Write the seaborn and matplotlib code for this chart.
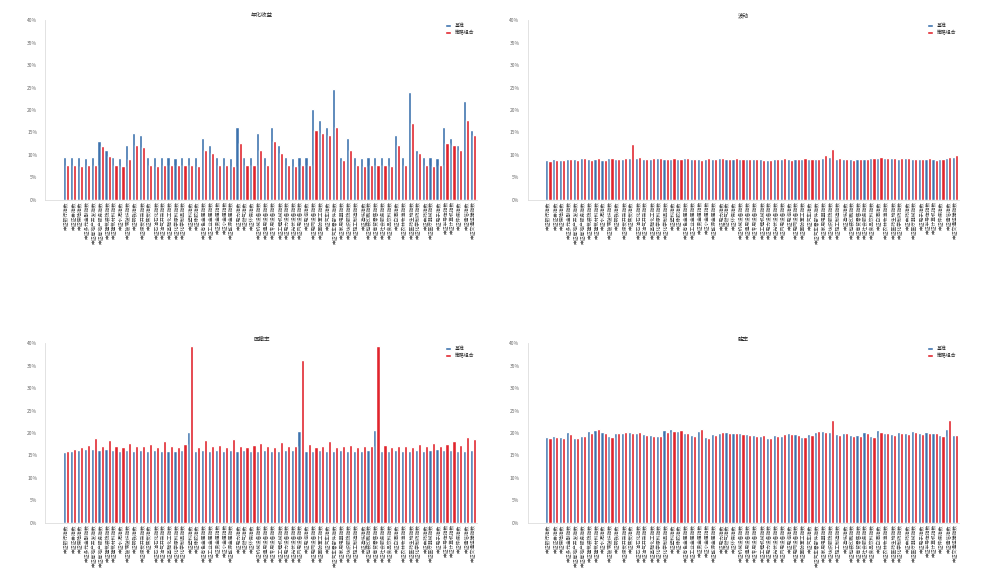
import pandas as pd
import matplotlib
matplotlib.use("Agg")
import matplotlib.pyplot as plt
import seaborn as sns
from matplotlib.ticker import PercentFormatter

sns.set_style("white")
plt.rcParams['font.family'] = ['Noto Sans CJK SC', 'DejaVu Sans']

# categories shared by all four panels
names = ["银行", "证券", "保险", "多元金融", "房地产开发", "房地产服务", "建筑装饰", "建筑材料", "水泥", "玻璃玻纤",
         "钢铁", "煤炭开采", "焦炭", "石油石化", "油气开采", "基础化工", "化学原料", "化学制品", "塑料", "橡胶",
         "有色金属", "工业金属", "贵金属", "小金属", "能源金属", "电力", "燃气", "环保", "机械设备", "通用设备",
         "专用设备", "工程机械", "电力设备", "光伏设备", "风电设备", "电池", "电网设备", "国防军工", "汽车", "汽车零部件",
         "家用电器", "纺织服饰", "轻工制造", "造纸", "包装印刷", "商贸零售", "社会服务", "食品饮料", "白酒", "农林牧渔",
         "医药生物", "化学制药", "中药", "医疗器械", "电子", "半导体", "计算机", "传媒", "通信", "交通运输"]
labels = ["中证" + n + "指数" for n in names]

series_names = ["基准", "策略组合"]
titles = ["年化收益", "波动", "回撤率", "胜率"]

tl_a = [9.5, 9.6, 9.5, 9.4, 9.5, 13.1, 11.0, 9.5, 9.4, 12.2,
        14.9, 14.4, 9.5, 9.5, 9.6, 9.5, 9.4, 9.5, 9.6, 9.5,
        13.8, 12.2, 9.5, 9.5, 9.4, 16.3, 9.5, 9.6, 14.9, 9.5,
        16.3, 12.2, 9.5, 9.4, 9.5, 9.5, 20.1, 17.8, 16.3, 24.6,
        9.5, 13.8, 9.5, 9.4, 9.5, 9.6, 9.5, 9.5, 14.4, 9.5,
        23.9, 11.0, 9.5, 9.5, 9.4, 16.3, 13.8, 12.2, 21.9, 15.6]
tl_b = [7.7, 7.8, 7.6, 7.7, 7.7, 12.0, 9.8, 7.7, 7.6, 9.0,
        12.2, 11.7, 7.7, 7.6, 7.7, 7.8, 7.7, 7.7, 7.7, 7.6,
        11.1, 10.4, 7.7, 7.7, 7.6, 12.6, 7.7, 7.7, 11.1, 7.7,
        13.1, 10.4, 7.7, 7.6, 7.7, 7.7, 15.6, 14.9, 14.4, 16.3,
        8.8, 11.1, 7.7, 7.6, 7.7, 7.7, 7.7, 7.6, 12.2, 7.7,
        17.2, 10.4, 7.7, 7.6, 7.7, 12.6, 12.2, 11.1, 17.8, 14.4]

tr_a = [8.9, 9.0, 8.9, 9.1, 9.0, 9.2, 9.0, 9.1, 8.9, 9.2,
        9.0, 9.1, 9.3, 9.4, 9.1, 9.0, 9.2, 9.0, 9.1, 9.0,
        9.2, 9.1, 9.0, 9.1, 9.0, 9.2, 9.0, 9.1, 9.0, 9.0,
        9.1, 9.0, 8.9, 9.0, 9.1, 9.0, 9.0, 9.1, 9.0, 9.0,
        9.2, 9.5, 9.1, 9.0, 9.0, 9.0, 9.1, 9.2, 9.3, 9.2,
        9.3, 9.1, 9.2, 9.1, 9.0, 9.1, 9.0, 9.0, 9.3, 9.6]
tr_b = [8.7, 8.8, 8.8, 9.0, 8.9, 9.3, 8.9, 9.2, 8.8, 9.4,
        9.0, 9.3, 12.4, 9.5, 9.0, 9.2, 9.4, 9.0, 9.3, 9.1,
        9.2, 9.0, 8.9, 9.2, 9.0, 9.4, 9.1, 9.2, 9.0, 9.1,
        9.0, 8.9, 8.8, 9.0, 9.2, 8.9, 9.0, 9.2, 9.0, 9.1,
        9.9, 11.2, 9.2, 9.0, 8.9, 9.1, 9.0, 9.3, 9.5, 9.3,
        9.4, 9.2, 9.3, 9.0, 9.1, 9.2, 8.9, 9.1, 9.6, 9.9]

bl_a = [15.8, 16.0, 16.2, 16.4, 16.5, 16.2, 16.4, 16.3, 16.0, 16.2,
        16.1, 16.3, 16.0, 16.2, 16.1, 16.0, 16.1, 16.2, 20.3, 16.1,
        16.3, 16.0, 16.2, 16.1, 16.3, 16.0, 16.2, 16.1, 16.0, 16.2,
        16.1, 16.0, 16.2, 16.3, 20.5, 16.1, 16.0, 16.2, 16.1, 16.0,
        16.2, 16.1, 16.0, 16.1, 16.2, 20.6, 16.1, 16.0, 16.2, 16.1,
        16.0, 16.3, 16.1, 16.2, 16.4, 16.3, 16.2, 16.1, 16.0, 16.3]
bl_b = [16.0, 16.4, 16.8, 17.3, 18.8, 17.0, 18.5, 17.2, 16.9, 17.8,
        17.2, 17.0, 17.6, 16.9, 18.2, 17.1, 16.8, 17.5, 39.5, 16.9,
        18.4, 17.0, 17.3, 16.8, 18.6, 17.2, 16.9, 17.4, 17.8, 17.2,
        16.8, 18.0, 17.1, 17.0, 36.2, 17.5, 16.8, 17.0, 18.3, 16.9,
        17.2, 17.4, 16.8, 17.1, 17.0, 39.5, 17.3, 16.8, 17.0, 17.2,
        16.9, 17.5, 17.2, 17.8, 17.0, 17.6, 18.2, 17.4, 19.1, 18.6]

br_a = [19.2, 19.3, 19.1, 20.2, 19.0, 19.3, 20.4, 20.6, 20.2, 19.4,
        20.1, 20.0, 20.3, 20.1, 19.8, 19.5, 19.3, 20.6, 20.8, 20.5,
        20.1, 19.6, 20.4, 19.2, 19.8, 20.1, 20.2, 19.9, 20.0, 19.7,
        19.5, 19.3, 19.0, 19.6, 19.4, 20.0, 19.7, 19.2, 19.8, 20.3,
        20.5, 20.2, 19.8, 20.1, 19.6, 19.5, 20.2, 19.3, 20.6, 20.1,
        19.8, 20.3, 20.0, 20.5, 19.9, 20.2, 20.1, 19.5, 21.0, 19.6]
br_b = [19.0, 19.1, 19.0, 19.8, 18.8, 19.4, 20.1, 20.9, 19.9, 19.2,
        20.0, 20.2, 19.9, 20.2, 19.6, 19.3, 19.4, 20.2, 20.4, 20.7,
        19.9, 19.4, 20.9, 19.0, 19.6, 20.2, 19.9, 20.0, 19.8, 19.5,
        19.3, 19.6, 18.9, 19.4, 19.7, 19.8, 19.5, 19.1, 19.6, 20.4,
        20.2, 22.9, 19.6, 19.9, 19.4, 19.3, 20.0, 19.1, 20.3, 20.0,
        19.6, 20.1, 19.8, 20.3, 19.7, 20.0, 19.9, 19.4, 22.8, 19.5]

panels = [(tl_a, tl_b), (tr_a, tr_b), (bl_a, bl_b), (br_a, br_b)]
colors = ["#3c72ad", "#e0242c"]

fig, axes = plt.subplots(2, 2, figsize=(9.89, 5.77), dpi=100)
fig.subplots_adjust(left=0.046, right=0.97, top=0.965, bottom=0.094, wspace=0.117, hspace=0.80)
axes = axes.flatten()

for ax, title, (a, b) in zip(axes, titles, panels):
    df = pd.DataFrame({
        'name': labels * 2,
        'value': a + b,
        'series': [series_names[0]] * len(a) + [series_names[1]] * len(b),
    })
    sns.barplot(data=df, x='name', y='value', hue='series', hue_order=series_names,
                palette=colors, ax=ax, width=0.92, saturation=1)
    ax.set_xlim(-3, len(labels) - 0.4)
    ax.set_ylim(0, 40)
    ax.set_yticks(range(0, 41, 5))
    ax.yaxis.set_major_formatter(PercentFormatter(decimals=0))
    ax.set_xlabel('')
    ax.set_ylabel('')
    ax.set_title(title, fontsize=4, color='#222222', pad=2)
    ax.tick_params(axis='x', labelrotation=90, labelsize=3.4, length=0, pad=1, colors='#444444')
    ax.tick_params(axis='y', labelsize=3.5, length=0, pad=6, colors='#666666')
    for side in ['top', 'right']:
        ax.spines[side].set_visible(False)
    for side in ['left', 'bottom']:
        ax.spines[side].set_color('#dddddd')
        ax.spines[side].set_linewidth(0.6)
    ax.legend(loc='upper right', fontsize=3.5, frameon=False, handlelength=1.2,
              handleheight=0.6, borderaxespad=0.2, labelspacing=0.3)

fig.savefig('out.png', dpi=100)
